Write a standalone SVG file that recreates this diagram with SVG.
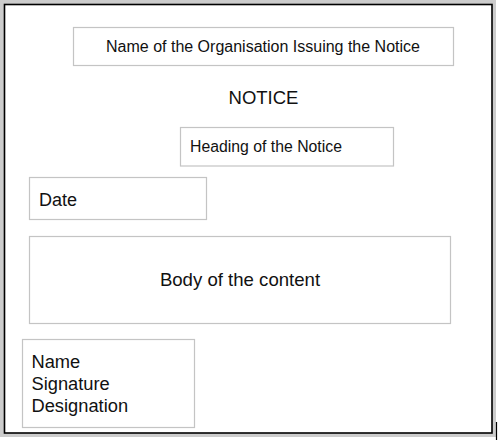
<svg xmlns="http://www.w3.org/2000/svg" width="498" height="440" viewBox="0 0 498 440">
<style>
.box{fill:#ffffff;stroke:#c4c4c4;stroke-width:1.2}
.t{font-family:"Liberation Sans",Arial,sans-serif;fill:#111}
</style>
<rect x="0" y="0" width="496" height="437" fill="#cccccc"/>
<rect x="4.5" y="4.5" width="487.5" height="428.5" fill="#ffffff" stroke="#000000" stroke-width="1.6"/>
<line x1="496.5" y1="422" x2="496.5" y2="440" stroke="#000000" stroke-width="1.2"/>
<g id="org">
<rect class="box" x="73.5" y="27.5" width="380" height="38"/>
<text class="t" x="263" y="52" font-size="16" text-anchor="middle">Name of the Organisation Issuing the Notice</text>
</g>
<g id="notice-title">
<text class="t" x="263.5" y="103.5" font-size="18.5" text-anchor="middle">NOTICE</text>
</g>
<g id="heading">
<rect class="box" x="180.5" y="127.5" width="213" height="38.5"/>
<text class="t" x="190" y="152" font-size="15.8">Heading of the Notice</text>
</g>
<g id="date">
<rect class="box" x="29.5" y="177.5" width="177" height="42"/>
<text class="t" x="39" y="205.5" font-size="18">Date</text>
</g>
<g id="body">
<rect class="box" x="29.5" y="236.5" width="421" height="87"/>
<text class="t" x="240" y="285.5" font-size="18.6" text-anchor="middle">Body of the content</text>
</g>
<g id="signatory">
<rect class="box" x="22.5" y="339.5" width="172" height="88"/>
<text class="t" x="31.5" y="367.5" font-size="18.3">Name</text>
<text class="t" x="31.5" y="389.5" font-size="18.3">Signature</text>
<text class="t" x="31.5" y="411.5" font-size="18.3">Designation</text>
</g>
<g id="connectors"/>
</svg>
